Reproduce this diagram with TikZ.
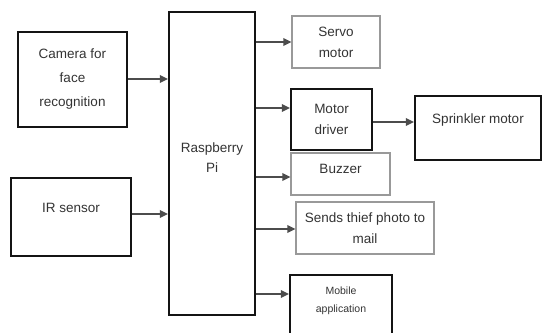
\documentclass[tikz,border=0pt]{standalone}
\usepackage{fontspec}
\setmainfont{Liberation Sans}
\usetikzlibrary{arrows.meta}
\tikzset{
  txt/.style={text=black!80, align=center, font=\fontsize{13.5}{21}\selectfont},
  bbox/.style={draw=black!92, line width=2.2pt, inner sep=0pt, txt},
  gbox/.style={draw=black!40, line width=1.1pt, inner sep=0pt, txt},
  arr/.style={draw=black!70, line width=1.7pt, -{Triangle[length=8pt,width=7.5pt]}},
}
\begin{document}
\begin{tikzpicture}[x=1pt,y=-1pt]
\useasboundingbox (0,0) rectangle (543,332);
\node[bbox, minimum width=109pt, minimum height=95pt, font=\fontsize{13.5}{24}\selectfont] (cam) at (72.5,79.5) {Camera for\\face\\recognition};
\node[bbox, minimum width=86pt, minimum height=303pt, label={[txt, font=\fontsize{13.5}{20}\selectfont, yshift=6pt]center:Raspberry\\Pi}] (pi) at (212,163.5) {};
\node[bbox, minimum width=120pt, minimum height=78pt, label={[txt, yshift=9pt]center:IR sensor}] (ir) at (71,217) {};
\node[gbox, minimum width=88pt, minimum height=52pt] (servo) at (336,42) {Servo\\motor};
\node[bbox, minimum width=81pt, minimum height=61pt] (driver) at (331.5,119.5) {Motor\\driver};
\node[bbox, minimum width=126pt, minimum height=64pt, label={[txt, yshift=8pt]center:Sprinkler motor}] (spr) at (478,128) {};
\node[gbox, minimum width=99pt, minimum height=42pt, label={[txt, yshift=5pt]center:Buzzer}] (buzz) at (340.5,174) {};
\node[gbox, minimum width=138pt, minimum height=52pt] (mail) at (365,228) {Sends thief photo to\\mail};
\node[bbox, minimum width=102pt, minimum height=70pt, label={[txt, font=\fontsize{10.5}{18}\selectfont, yshift=9pt]center:Mobile\\application}] (mob) at (341,310) {};
\draw[arr] (cam.east |- 0,79) -- (pi.west |- 0,79);
\draw[arr] (ir.east |- 0,214) -- (pi.west |- 0,214);
\draw[arr] (pi.east |- servo.west) -- (servo.west);
\draw[arr] (pi.east |- 0,108) -- (driver.west |- 0,108);
\draw[arr] (driver.east |- 0,122) -- (spr.west |- 0,122);
\draw[arr] (pi.east |- 0,177) -- (buzz.west |- 0,177);
\draw[arr] (pi.east |- 0,229) -- (mail.west |- 0,229);
\draw[arr] (pi.east |- 0,294) -- (mob.west |- 0,294);
\end{tikzpicture}
\end{document}
